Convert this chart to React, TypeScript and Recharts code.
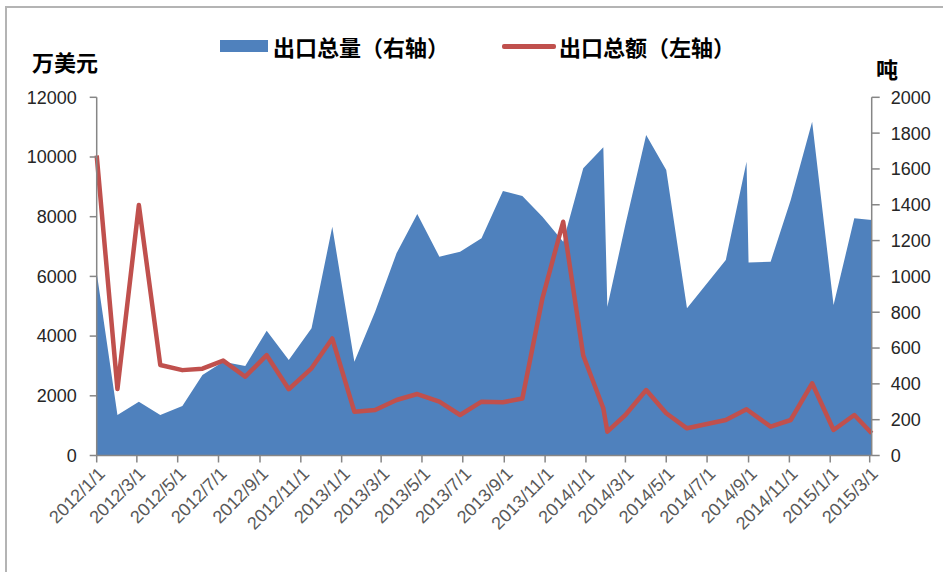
import React from 'react';
import { ComposedChart, Area, Line, XAxis, YAxis, Legend } from 'recharts';

const dates = [
  '2012/1/1', '2012/2/1', '2012/3/4', '2012/4/5', '2012/5/8', '2012/6/7',
  '2012/7/8', '2012/8/10', '2012/9/11', '2012/10/14', '2012/11/17', '2012/12/18',
  '2013/1/20', '2013/2/20', '2013/3/24', '2013/4/24', '2013/5/27', '2013/6/27',
  '2013/7/29', '2013/8/30', '2013/9/28', '2013/10/28', '2013/11/28', '2013/12/28',
  '2014/1/27', '2014/2/2', '2014/3/1', '2014/4/1', '2014/5/1', '2014/6/1',
  '2014/7/29', '2014/8/29', '2014/9/1', '2014/10/4', '2014/11/3', '2014/12/5',
  '2015/1/6', '2015/2/6', '2015/3/4',
];

// 出口总量 (吨, right axis)
const exportVolume = [
  1020, 226, 300, 226, 276, 449,
  524, 500, 697, 533, 710, 1277,
  524, 803, 1129, 1348, 1110, 1138,
  1213, 1477, 1449, 1333, 1194, 1604,
  1721, 831, 1290, 1790, 1594, 822,
  1092, 1640, 1077, 1082, 1427, 1864,
  840, 1324, 1315,
];

// 出口总额 (万美元, left axis)
const exportValue = [
  10050, 2230, 8390, 3030, 2860, 2910,
  3180, 2640, 3360, 2220, 2920, 3920,
  1467, 1524, 1859, 2060, 1802, 1357,
  1802, 1782, 1910, 5266, 7832, 3350,
  1581, 797, 1357, 2194, 1414, 911,
  1189, 1548, 1500, 965, 1189, 2419,
  854, 1357, 744,
];

const xTickLabels = [
  '2012/1/1', '2012/3/1', '2012/5/1', '2012/7/1', '2012/9/1', '2012/11/1',
  '2013/1/1', '2013/3/1', '2013/5/1', '2013/7/1', '2013/9/1', '2013/11/1',
  '2014/1/1', '2014/3/1', '2014/5/1', '2014/7/1', '2014/9/1', '2014/11/1',
  '2015/1/1', '2015/3/1',
];
const leftTicks = [0, 2000, 4000, 6000, 8000, 10000, 12000];
const rightTicks = [0, 200, 400, 600, 800, 1000, 1200, 1400, 1600, 1800, 2000];

const BLUE = '#4F81BD';
const RED = '#C0504D';
const AXIS = '#868686';
const CJK = '"Noto Sans CJK SC", "Noto Sans", sans-serif';
const NUM = '"Liberation Sans", Arial, sans-serif';

const BASE = Date.UTC(2012, 0, 1);
const toDay = (s: string) => {
  const [y, m, d] = s.split('/').map(Number);
  return Math.round((Date.UTC(y, m - 1, d) - BASE) / 86400000);
};

const data = dates.map((d, i) => ({
  t: toDay(d),
  vol: exportVolume[i],
  val: exportValue[i],
}));

const xTicks = xTickLabels.map(toDay);
const labelByDay: Record<number, string> = {};
xTickLabels.forEach((l) => {
  labelByDay[toDay(l)] = l;
});

const XTick = (props: any) => {
  const { x, y, payload } = props;
  const ax = x + 5;
  const ay = y + 6;
  return (
    <text
      x={ax}
      y={ay}
      dy="0.35em"
      textAnchor="end"
      transform={`rotate(-45, ${ax}, ${ay})`}
      fontSize={18}
      fontFamily={NUM}
      fill="#595959"
    >
      {labelByDay[payload.value]}
    </text>
  );
};

const renderLegend = (props: any) => {
  const payload = props.payload || [];
  const vol = payload.find((p: any) => p.dataKey === 'vol');
  const val = payload.find((p: any) => p.dataKey === 'val');
  const textStyle: React.CSSProperties = {
    position: 'absolute',
    top: 0,
    lineHeight: '32px',
    fontFamily: CJK,
    fontWeight: 700,
    fontSize: 22,
    color: '#000',
    whiteSpace: 'nowrap',
  };
  return (
    <div style={{ position: 'relative', width: 943, height: 32 }}>
      <div style={{ position: 'absolute', left: 220, top: 10, width: 48, height: 12, background: BLUE }} />
      <span style={{ ...textStyle, left: 273 }}>{vol ? vol.value : ''}</span>
      <div style={{ position: 'absolute', left: 502, top: 14, width: 54, height: 5, background: RED, borderRadius: 2 }} />
      <span style={{ ...textStyle, left: 559 }}>{val ? val.value : ''}</span>
    </div>
  );
};

export default function App() {
  return (
    <div
      style={{
        position: 'absolute',
        left: 0,
        top: 0,
        width: 943,
        height: 572,
        overflow: 'hidden',
        background: '#fff',
      }}
    >
      <div
        style={{
          position: 'absolute',
          left: 5,
          top: 6,
          width: 980,
          height: 620,
          border: '2px solid #b4b4b4',
          boxSizing: 'border-box',
        }}
      />
      <div
        style={{
          position: 'absolute',
          left: 32,
          top: 48,
          fontFamily: CJK,
          fontWeight: 700,
          fontSize: 22,
          lineHeight: '26px',
          color: '#000',
        }}
      >
        万美元
      </div>
      <div
        style={{
          position: 'absolute',
          left: 876,
          top: 55,
          fontFamily: CJK,
          fontWeight: 700,
          fontSize: 22,
          lineHeight: '26px',
          color: '#000',
        }}
      >
        吨
      </div>
      <div style={{ position: 'absolute', left: 0, top: 0 }}>
        <ComposedChart
          width={943}
          height={572}
          data={data}
          margin={{ top: 97.3, right: 11.3, bottom: 36.5, left: 36.7 }}
        >
          <XAxis
            dataKey="t"
            type="number"
            domain={[0, 'dataMax']}
            ticks={xTicks}
            interval={0}
            tick={<XTick />}
            tickSize={7}
            tickMargin={2}
            height={80}
            axisLine={{ stroke: AXIS, strokeWidth: 1.5 }}
            tickLine={{ stroke: AXIS, strokeWidth: 1.5 }}
          />
          <YAxis
            yAxisId="left"
            orientation="left"
            domain={[0, 12000]}
            ticks={leftTicks}
            interval={0}
            width={60}
            tickSize={7}
            tickMargin={13}
            axisLine={{ stroke: AXIS, strokeWidth: 1.5 }}
            tickLine={{ stroke: AXIS, strokeWidth: 1.5 }}
            tick={{ fontSize: 18, fontFamily: NUM, fill: '#262626' }}
          />
          <YAxis
            yAxisId="right"
            orientation="right"
            domain={[0, 2000]}
            ticks={rightTicks}
            interval={0}
            width={60}
            tickSize={8}
            tickMargin={11}
            axisLine={{ stroke: AXIS, strokeWidth: 1.5 }}
            tickLine={{ stroke: AXIS, strokeWidth: 1.5 }}
            tick={{ fontSize: 18, fontFamily: NUM, fill: '#262626' }}
          />
          <Legend
            verticalAlign="middle"
            align="center"
            layout="horizontal"
            wrapperStyle={{ top: 30, left: 0, width: 943, height: 32 }}
            content={renderLegend}
          />
          <Area
            yAxisId="right"
            type="linear"
            dataKey="vol"
            name="出口总量（右轴）"
            fill={BLUE}
            fillOpacity={1}
            stroke="none"
            isAnimationActive={false}
          />
          <Line
            yAxisId="left"
            type="linear"
            dataKey="val"
            name="出口总额（左轴）"
            stroke={RED}
            strokeWidth={4.5}
            strokeLinejoin="round"
            dot={false}
            activeDot={false}
            isAnimationActive={false}
          />
        </ComposedChart>
      </div>
    </div>
  );
}
